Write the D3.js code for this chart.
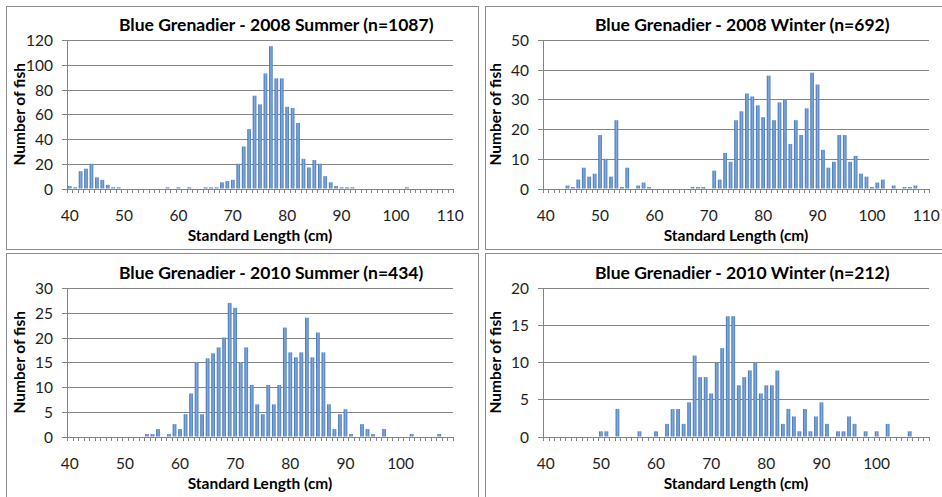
<!DOCTYPE html>
<html>
<head>
<meta charset="utf-8">
<title>Blue Grenadier length frequency</title>
<script src="https://d3js.org/d3.v7.min.js"></script>
<style>
  body { margin: 0; background: #fff; }
  text { font-family: Lato, "Open Sans", sans-serif; }
</style>
</head>
<body>
<svg width="942" height="497"></svg>
<script>
// categories (standard length, cm)
var lengthsTop = d3.range(40, 111);     // 40..110
var lengthsBottom = d3.range(40, 110);  // 40..109

// number of fish per 1 cm class
var summer2008 = [2,1,14,16,20,9,7,3,1,1,
  0,0,0,0,0,0,0,0,1,0,
  1,0,1,0,0,1,1,1,5,6,
  7,20,34,48,75,68,93,115,89,89,
  66,65,53,24,17,23,20,10,5,2,
  1,1,1,0,0,0,0,0,0,0,
  0,0,1,0,0,0,0,0,0,0,
  0];
var winter2008 = [0,0,0,0,1,0.5,3,7,4,5,
  18,10,4,23,0.5,7,0,1,2,0.5,
  0,0,0,0,0,0,0,0.5,0.5,0.5,
  0,6,3,12,9,23,26,32,31,28,
  24,38,23,29,30,15,23,18,27,39,
  35,13,7,9,18,18,9,11,5,4,
  0.5,2,3,0,1,0,0.5,0.5,1,0,
  0];
var summer2010 = [0,0,0,0,0,0,0,0,0,0,
  0,0,0,0,0.5,0.5,1.5,0,0.5,2.5,
  1.5,4.5,8.7,15,4.5,15.8,16.8,18,20,27,
  26,15,18,10.4,6.5,4.5,10.4,6.5,10.4,22,
  17,16,17,24,16,21,17,6.5,1.5,4.5,
  5.5,0.5,0,2.5,1.5,0.5,0,1.5,0,0,
  0,0,0.5,0,0,0,0,0.5,0,0];
var winter2010 = [0,0,0,0,0,0,0,0,0,0,
  0.7,0.7,0,3.7,0,0,0,0.7,0,0,
  0.7,0,1.7,3.7,3.7,1.7,4.6,10.9,8,8,
  5.8,9.9,11.9,16.2,16.2,6.9,8,8.9,9.9,5.8,
  6.9,6.9,8.9,1.7,3.7,2.7,0.7,3.7,0.7,2.7,
  4.6,1.7,0,0.7,0.7,2.7,1.7,0,0.7,0,
  0.7,0,1.7,0,0,0,0.7,0,0,0];

var titles = ["Blue Grenadier - 2008 Summer (n=1087)", "Blue Grenadier - 2008 Winter (n=692)",
              "Blue Grenadier - 2010 Summer (n=434)", "Blue Grenadier - 2010 Winter (n=212)"];
var yMax = [120, 50, 30, 20];
var yStep = [20, 10, 5, 5];
var xLabelValues = [40, 50, 60, 70, 80, 90, 100, 110];

var panels = [
  { cats: lengthsTop,    vals: summer2008, box: [6, 6, 472, 243],     plot: [67, 453, 40, 188.5] },
  { cats: lengthsTop,    vals: winter2008, box: [485, 6, 470, 243],   plot: [543, 929, 40, 188.5] },
  { cats: lengthsBottom, vals: summer2010, box: [6, 253, 472, 260],   plot: [67, 453, 288, 436.5] },
  { cats: lengthsBottom, vals: winter2010, box: [485, 253, 470, 260], plot: [543, 929, 288, 436.5] }
];

var gridColor = "#858585";
var svg = d3.select("svg");

var defs = svg.append("defs");
var grad = defs.append("linearGradient")
    .attr("id", "barGrad")
    .attr("x1", "0").attr("x2", "1").attr("y1", "0").attr("y2", "0");
grad.append("stop").attr("offset", "0%").attr("stop-color", "#3a6fb4");
grad.append("stop").attr("offset", "50%").attr("stop-color", "#86abdd");
grad.append("stop").attr("offset", "100%").attr("stop-color", "#4579bd");

panels.forEach(function(p, i) {
  var left = p.plot[0], right = p.plot[1], top = p.plot[2], bottom = p.plot[3];
  var g = svg.append("g");

  // chart area border
  g.append("rect")
    .attr("x", p.box[0] + 0.5).attr("y", p.box[1] + 0.5)
    .attr("width", p.box[2]).attr("height", p.box[3])
    .attr("fill", "#fff").attr("stroke", "#8c8c8c").attr("stroke-width", 1);

  var x = d3.scaleBand()
      .domain(p.cats)
      .range([left, right])
      .paddingInner(0.32)
      .paddingOuter(0.16);

  var xEdges = d3.scaleLinear()
      .domain([0, p.cats.length])
      .range([left, right]);

  var y = d3.scaleLinear()
      .domain([0, yMax[i]])
      .range([bottom, top]);

  var yTicks = d3.range(0, yMax[i] + 0.001, yStep[i]);

  // gridlines
  g.append("g")
    .attr("transform", "translate(" + left + ",0)")
    .call(d3.axisLeft(y).tickValues(yTicks.slice(1)).tickSize(-(right - left)).tickFormat(""))
    .call(function(s) {
      s.select(".domain").remove();
      s.selectAll("line").attr("stroke", gridColor).attr("shape-rendering", "crispEdges");
    });

  // y axis
  g.append("g")
    .attr("transform", "translate(" + left + ",0)")
    .call(d3.axisLeft(y).tickValues(yTicks).tickSize(5).tickPadding(9).tickSizeOuter(0))
    .call(function(s) {
      s.select(".domain").attr("stroke", gridColor).attr("shape-rendering", "crispEdges");
      s.selectAll("line").attr("stroke", gridColor).attr("shape-rendering", "crispEdges");
      s.selectAll("text").attr("fill", "#1e1e1e").style("font-size", "15.5px")
        .style("font-family", "Lato, sans-serif").attr("dy", "0.36em");
    });

  // bars
  g.selectAll(".bar")
    .data(p.vals.map(function(v, k) { return { len: p.cats[k], value: v }; })
      .filter(function(d) { return d.value > 0; }))
    .enter()
    .append("rect")
    .attr("class", "bar")
    .attr("x", function(d) { return x(d.len); })
    .attr("y", function(d) { return y(d.value); })
    .attr("width", x.bandwidth())
    .attr("height", function(d) { return bottom - y(d.value); })
    .attr("fill", "url(#barGrad)");

  // x axis line with tick marks between categories
  g.append("g")
    .attr("transform", "translate(0," + bottom + ")")
    .call(d3.axisBottom(xEdges).tickValues(d3.range(p.cats.length + 1)).tickSize(4).tickSizeOuter(0).tickFormat(""))
    .call(function(s) {
      s.select(".domain").attr("stroke", gridColor).attr("shape-rendering", "crispEdges");
      s.selectAll("line").attr("stroke", gridColor).attr("shape-rendering", "crispEdges");
    });

  // x labels every 10 cm
  g.append("g")
    .attr("transform", "translate(0," + bottom + ")")
    .call(d3.axisBottom(x)
      .tickValues(xLabelValues.filter(function(v) { return p.cats.indexOf(v) >= 0; }))
      .tickSize(0).tickPadding(21))
    .call(function(s) {
      s.select(".domain").remove();
      s.selectAll("text").attr("fill", "#1e1e1e").style("font-size", "15.5px")
        .style("font-family", "Lato, sans-serif");
    });

  // titles
  g.append("text")
    .attr("x", left + 52)
    .attr("y", top - 9.5)
    .attr("fill", "#000")
    .style("font-size", "17.5px")
    .style("font-weight", "bold")
    .text(titles[i]);

  g.append("text")
    .attr("x", (left + right) / 2)
    .attr("y", bottom + 52)
    .attr("text-anchor", "middle")
    .attr("fill", "#000")
    .style("font-size", "15.5px")
    .style("font-weight", "bold")
    .text("Standard Length (cm)");

  g.append("text")
    .attr("transform", "translate(" + (left - 42) + "," + ((top + bottom) / 2) + ") rotate(-90)")
    .attr("text-anchor", "middle")
    .attr("fill", "#000")
    .style("font-size", "15.5px")
    .style("font-weight", "bold")
    .text("Number of fish");
});
</script>
</body>
</html>
